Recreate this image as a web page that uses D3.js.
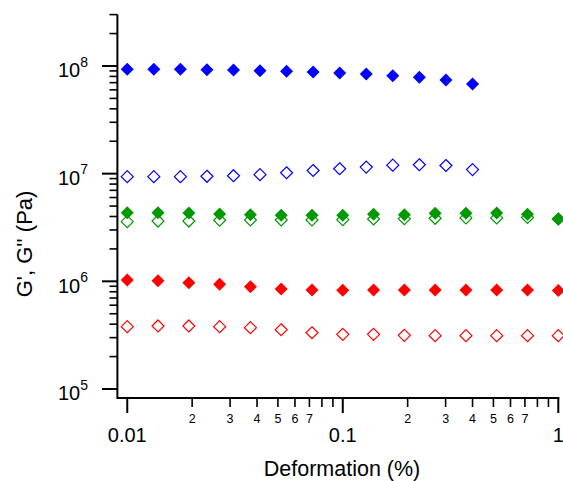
<!DOCTYPE html>
<html>
<head>
<meta charset="utf-8">
<script src="https://cdn.jsdelivr.net/npm/d3@7"></script>
<style>
  html, body { margin: 0; padding: 0; background: #fff; }
  svg { display: block; font-family: "Liberation Sans", Arial, Helvetica, sans-serif; }
</style>
</head>
<body>
<svg id="chart" width="563" height="481"></svg>
<script>
// ---- data ----
const xBlue = [0.01, 0.01328, 0.01764, 0.02343, 0.03111, 0.0413, 0.05485, 0.07285, 0.09674, 0.1285, 0.1706, 0.2266, 0.301, 0.4];
const blueGp  = [9.32e7, 9.32e7, 9.32e7, 9.24e7, 9.18e7, 9.04e7, 8.93e7, 8.8e7, 8.61e7, 8.43e7, 8.13e7, 7.85e7, 7.41e7, 6.81e7];
const blueGpp = [9.37e6, 9.37e6, 9.37e6, 9.45e6, 9.57e6, 9.78e6, 1.02e7, 1.07e7, 1.11e7, 1.15e7, 1.2e7, 1.21e7, 1.19e7, 1.09e7];

const xGR = [0.01, 0.01389, 0.01931, 0.02683, 0.03728, 0.05179, 0.07197, 0.1, 0.1389, 0.1931, 0.2683, 0.3728, 0.5179, 0.7197, 1.0];
const greenGp  = [4.34e6, 4.34e6, 4.31e6, 4.22e6, 4.16e6, 4.1e6, 4.1e6, 4.1e6, 4.2e6, 4.16e6, 4.28e6, 4.28e6, 4.31e6, 4.2e6, 3.79e6];
const greenGpp = [3.58e6, 3.63e6, 3.63e6, 3.69e6, 3.71e6, 3.71e6, 3.71e6, 3.74e6, 3.79e6, 3.82e6, 3.85e6, 3.88e6, 3.88e6, 3.92e6, 3.79e6];
const redGp  = [1.03e6, 1.01e6, 9.7e5, 9.4e5, 8.9e5, 8.5e5, 8.3e5, 8.25e5, 8.3e5, 8.3e5, 8.3e5, 8.3e5, 8.3e5, 8.3e5, 8.2e5];
const redGpp = [3.79e5, 3.85e5, 3.85e5, 3.79e5, 3.71e5, 3.55e5, 3.33e5, 3.22e5, 3.22e5, 3.15e5, 3.13e5, 3.13e5, 3.13e5, 3.13e5, 3.13e5];

const xMajorTicks = [0.01, 0.1, 1];
const xMajorLabels = ["0.01", "0.1", "1"];
const xMinorDigits = [2, 3, 4, 5, 6, 7, 8, 9];
const xMinorLabelDigits = [2, 3, 4, 5, 6, 7];
const yMajorExps = [5, 6, 7, 8];
const yMinorDigits = [2, 3, 4, 5, 6, 7, 8, 9];

const xTitle = "Deformation (%)";
const yTitle = "G', G'' (Pa)";

const blue = "#0000FF", green = "#009900", red = "#FF0000";

// ---- scales ----
const svg = d3.select("#chart");
const x = d3.scaleLog().domain([0.009, 1]).range([117.4, 558.3]);
const y = d3.scaleLog().domain([82500, 3e8]).range([398, 14.6]);

const axisG = svg.append("g");
// axis lines
axisG.append("line").attr("x1", x(0.009)).attr("x2", x(1) + 1).attr("y1", 398).attr("y2", 398)
  .attr("stroke", "#000").attr("stroke-width", 2);
axisG.append("line").attr("x1", 117.4).attr("x2", 117.4).attr("y1", y(3e8)).attr("y2", 399)
  .attr("stroke", "#000").attr("stroke-width", 2);

// x ticks
const xMinor = [];
[0.01, 0.1].forEach(d => xMinorDigits.forEach(k => xMinor.push(d * k)));
axisG.selectAll(".xmin").data(xMinor).enter().append("line")
  .attr("x1", d => x(d)).attr("x2", d => x(d)).attr("y1", 398).attr("y2", 407)
  .attr("stroke", "#000").attr("stroke-width", 1.6);
axisG.selectAll(".xmaj").data(xMajorTicks).enter().append("line")
  .attr("x1", d => x(d)).attr("x2", d => x(d)).attr("y1", 398).attr("y2", 413)
  .attr("stroke", "#000").attr("stroke-width", 2);
axisG.selectAll(".xmajl").data(xMajorTicks).enter().append("text")
  .attr("x", d => x(d)).attr("y", 442).attr("text-anchor", "middle")
  .attr("font-size", 20).text((d, i) => xMajorLabels[i]);
const xMinorLab = [];
[0.01, 0.1].forEach(d => xMinorLabelDigits.forEach(k => xMinorLab.push({v: d * k, k})));
axisG.selectAll(".xminl").data(xMinorLab).enter().append("text")
  .attr("x", d => x(d.v)).attr("y", 423).attr("text-anchor", "middle")
  .attr("font-size", 12.5).text(d => d.k);

// y ticks
const yMinor = [];
yMajorExps.forEach(e => yMinorDigits.forEach(k => { const v = k * Math.pow(10, e); if (v <= 3e8) yMinor.push(v); }));
axisG.selectAll(".ymin").data(yMinor).enter().append("line")
  .attr("x1", 109.5).attr("x2", 117.4).attr("y1", d => y(d)).attr("y2", d => y(d))
  .attr("stroke", "#000").attr("stroke-width", 1.6);
axisG.selectAll(".ymaj").data(yMajorExps).enter().append("line")
  .attr("x1", 102).attr("x2", 117.4).attr("y1", d => y(Math.pow(10, d))).attr("y2", d => y(Math.pow(10, d)))
  .attr("stroke", "#000").attr("stroke-width", 2);
const yl = axisG.selectAll(".ymajl").data(yMajorExps).enter().append("text")
  .attr("x", 88).attr("y", d => y(Math.pow(10, d)) + 11.3).attr("text-anchor", "end")
  .attr("font-size", 20);
yl.append("tspan").text("10");
yl.append("tspan").attr("dy", -10.6).attr("font-size", 14).text(d => d);

// titles
svg.append("text").attr("x", 342).attr("y", 475.5).attr("text-anchor", "middle")
  .attr("font-size", 21.5).text(xTitle);
svg.append("text").attr("transform", "translate(32,244) rotate(-90)").attr("text-anchor", "middle")
  .attr("font-size", 22).text(yTitle);

// markers
const diamond = r => `M0,${-r}L${r},0L0,${r}L${-r},0Z`;
function openSeries(xs, ys, col) {
  svg.append("g").selectAll("path").data(ys).enter().append("path")
    .attr("transform", (d, i) => `translate(${x(xs[i])},${y(d)})`)
    .attr("d", diamond(6)).attr("fill", "#fff").attr("stroke", col).attr("stroke-width", 1.2);
}
function filledSeries(xs, ys, col) {
  svg.append("g").selectAll("path").data(ys).enter().append("path")
    .attr("transform", (d, i) => `translate(${x(xs[i])},${y(d)})`)
    .attr("d", diamond(6.5)).attr("fill", col);
}
openSeries(xGR, redGpp, red);
filledSeries(xGR, redGp, red);
openSeries(xGR, greenGpp, green);
filledSeries(xGR, greenGp, green);
openSeries(xBlue, blueGpp, blue);
filledSeries(xBlue, blueGp, blue);
</script>
</body>
</html>
